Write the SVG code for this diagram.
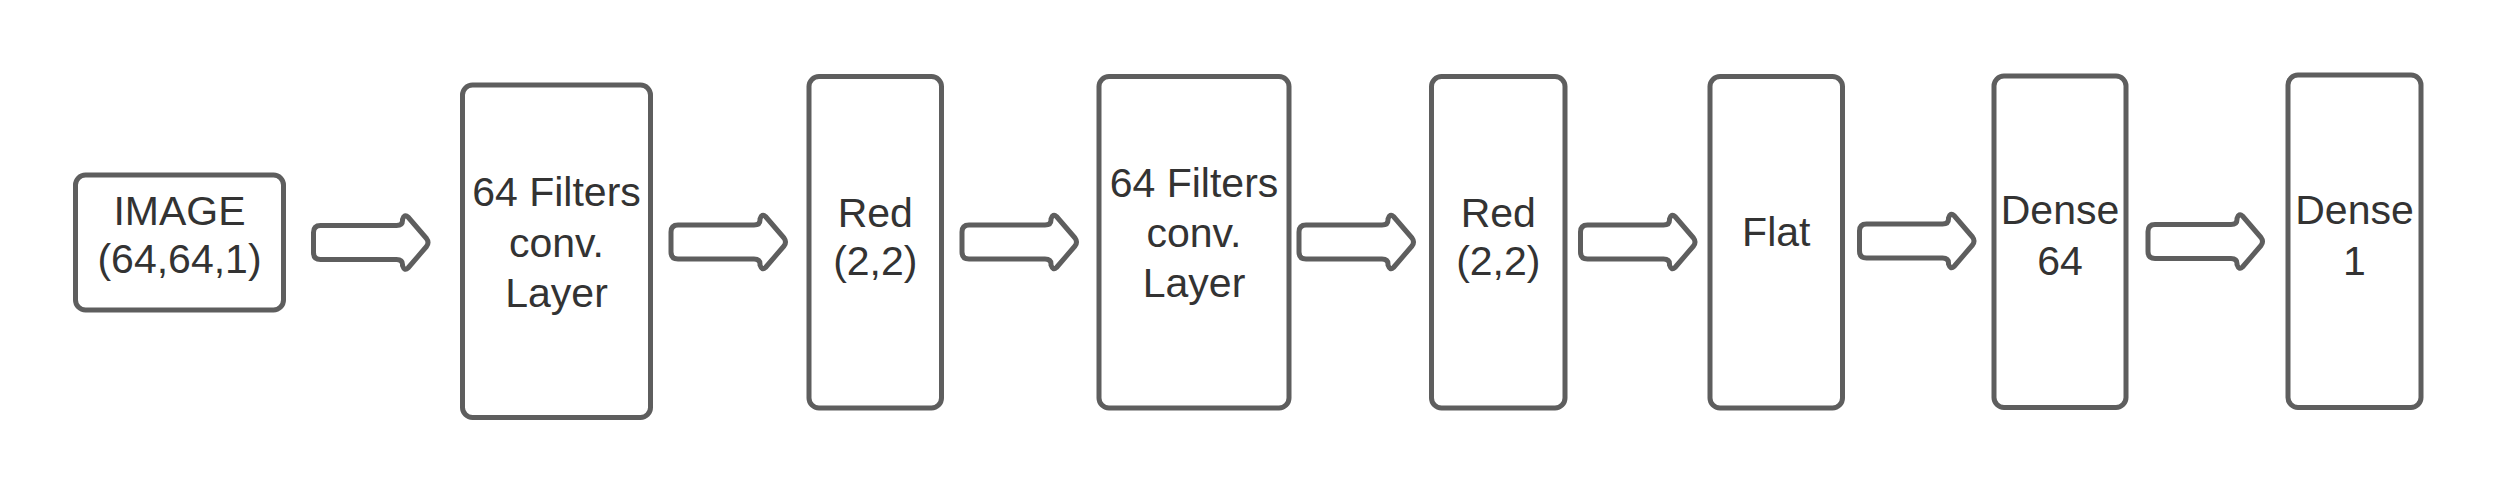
<svg xmlns="http://www.w3.org/2000/svg" width="2496" height="493" viewBox="0 0 2496 493">
<style>
.box{fill:#ffffff;stroke:#5e5e5e;stroke-width:5}
.arr{fill:#ffffff;stroke:#5e5e5e;stroke-width:5;stroke-linejoin:round}
.t{font-family:"Liberation Sans",Arial,sans-serif;font-size:41px;fill:#333333;text-anchor:middle}
</style>
<defs>
<path id="blk" d="M 10,-17 L 86,-17 Q 92,-17 92,-22 L 92,-23 Q 94,-29 97.5,-25.5 L 116,-4 Q 119,0 116,4 L 97.5,25.5 Q 94,29 92,23 L 92,22 Q 92,17 86,17 L 10,17 Q 3,17 3,10 L 3,-10 Q 3,-17 10,-17 Z"/>
</defs>
<rect width="2496" height="493" fill="#ffffff"/>
<g id="connectors">
<use href="#blk" class="arr" transform="translate(310.5,242.5)"/>
<use href="#blk" class="arr" transform="translate(668,242)"/>
<use href="#blk" class="arr" transform="translate(959,242)"/>
<use href="#blk" class="arr" transform="translate(1296,242)"/>
<use href="#blk" class="arr" transform="translate(1577.5,242)"/>
<use href="#blk" class="arr" transform="translate(1856.5,241)"/>
<use href="#blk" class="arr" transform="translate(2145,241.5)"/>
</g>
<g id="image">
<rect class="box" x="75.5" y="175" width="208" height="135" rx="10"/>
<text class="t" x="179.5" y="225">IMAGE</text>
<text class="t" x="179.5" y="273">(64,64,1)</text>
</g>
<g id="conv1">
<rect class="box" x="462.5" y="85" width="188" height="332.5" rx="10"/>
<text class="t" x="556.5" y="206">64 Filters</text>
<text class="t" x="556.5" y="256.5">conv.</text>
<text class="t" x="556.5" y="306.5">Layer</text>
</g>
<g id="red1">
<rect class="box" x="809" y="76.5" width="132.5" height="331.5" rx="10"/>
<text class="t" x="875.3" y="226.5">Red</text>
<text class="t" x="875.3" y="275">(2,2)</text>
</g>
<g id="conv2">
<rect class="box" x="1099" y="76.5" width="190" height="331.5" rx="10"/>
<text class="t" x="1194" y="196.5">64 Filters</text>
<text class="t" x="1194" y="246.5">conv.</text>
<text class="t" x="1194" y="296.5">Layer</text>
</g>
<g id="red2">
<rect class="box" x="1431.5" y="76.5" width="133.5" height="331.5" rx="10"/>
<text class="t" x="1498.3" y="226.5">Red</text>
<text class="t" x="1498.3" y="275">(2,2)</text>
</g>
<g id="flat">
<rect class="box" x="1710" y="76.5" width="132.5" height="331.5" rx="10"/>
<text class="t" x="1776.3" y="246">Flat</text>
</g>
<g id="dense64">
<rect class="box" x="1994" y="76" width="132" height="331.5" rx="10"/>
<text class="t" x="2060" y="224">Dense</text>
<text class="t" x="2060" y="275">64</text>
</g>
<g id="dense1">
<rect class="box" x="2288" y="75" width="133" height="332.5" rx="10"/>
<text class="t" x="2354.5" y="224">Dense</text>
<text class="t" x="2354.5" y="275">1</text>
</g>
</svg>
